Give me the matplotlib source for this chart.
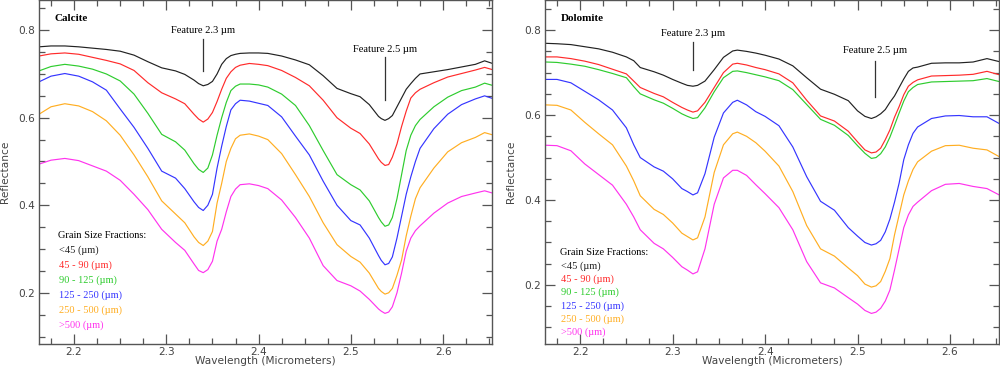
import matplotlib
matplotlib.use("Agg")
import matplotlib.pyplot as plt
from matplotlib.ticker import MultipleLocator

# ---- data ----
# Calcite panel, wavelength grid (micrometers)
wl_calcite = [2.162, 2.175, 2.19, 2.205, 2.22, 2.235, 2.25, 2.265, 2.28, 2.295,
              2.31, 2.32, 2.33, 2.335, 2.34, 2.345, 2.35, 2.355, 2.36, 2.365, 2.37, 2.375, 2.38, 2.39, 2.40,
              2.41, 2.425, 2.44, 2.455, 2.47, 2.485, 2.50, 2.51, 2.52, 2.53, 2.533,
              2.537, 2.541, 2.545, 2.55, 2.555, 2.56, 2.565, 2.57, 2.575, 2.59, 2.605, 2.62, 2.635, 2.645, 2.655]

cal_lt45 = [0.762, 0.764, 0.764, 0.762, 0.759, 0.756, 0.752, 0.743, 0.728, 0.714,
            0.707, 0.699, 0.686, 0.678, 0.673, 0.676, 0.683, 0.700, 0.722, 0.735, 0.742, 0.745, 0.747, 0.748, 0.748,
            0.747, 0.741, 0.732, 0.721, 0.696, 0.667, 0.655, 0.648, 0.630, 0.603, 0.598,
            0.594, 0.598, 0.605, 0.625, 0.645, 0.665, 0.678, 0.690, 0.700, 0.705, 0.710, 0.716, 0.722, 0.730, 0.723]
cal_45_90 = [0.741, 0.746, 0.748, 0.745, 0.738, 0.731, 0.723, 0.708, 0.680, 0.657,
             0.643, 0.632, 0.608, 0.597, 0.590, 0.597, 0.612, 0.637, 0.665, 0.690, 0.705, 0.715, 0.720, 0.724, 0.722,
             0.719, 0.708, 0.692, 0.673, 0.640, 0.600, 0.576, 0.564, 0.540, 0.506, 0.498,
             0.491, 0.493, 0.510, 0.540, 0.580, 0.615, 0.645, 0.657, 0.665, 0.680, 0.693, 0.701, 0.709, 0.715, 0.709]
cal_90_125 = [0.707, 0.717, 0.722, 0.718, 0.711, 0.700, 0.684, 0.654, 0.610, 0.562,
              0.545, 0.526, 0.495, 0.482, 0.475, 0.485, 0.515, 0.560, 0.600, 0.635, 0.662, 0.672, 0.677, 0.677, 0.675,
              0.670, 0.654, 0.628, 0.582, 0.525, 0.470, 0.447, 0.435, 0.410, 0.372, 0.362,
              0.352, 0.355, 0.372, 0.415, 0.470, 0.525, 0.560, 0.582, 0.596, 0.625, 0.647, 0.662, 0.670, 0.679, 0.673]
cal_125_250 = [0.682, 0.695, 0.701, 0.695, 0.682, 0.663, 0.620, 0.578, 0.530, 0.478,
               0.462, 0.438, 0.408, 0.395, 0.388, 0.400, 0.425, 0.485, 0.535, 0.580, 0.618, 0.632, 0.640, 0.638, 0.633,
               0.628, 0.602, 0.558, 0.515, 0.455, 0.400, 0.365, 0.355, 0.325, 0.285, 0.274,
               0.264, 0.267, 0.282, 0.325, 0.375, 0.425, 0.465, 0.500, 0.530, 0.575, 0.608, 0.630, 0.643, 0.650, 0.643]
cal_250_500 = [0.608, 0.625, 0.632, 0.627, 0.614, 0.593, 0.560, 0.515, 0.465, 0.410,
               0.380, 0.360, 0.328, 0.315, 0.308, 0.318, 0.340, 0.405, 0.450, 0.500, 0.530, 0.552, 0.560, 0.563, 0.558,
               0.550, 0.518, 0.470, 0.420, 0.360, 0.310, 0.283, 0.270, 0.245, 0.210, 0.203,
               0.197, 0.200, 0.210, 0.240, 0.275, 0.330, 0.375, 0.415, 0.440, 0.485, 0.522, 0.543, 0.555, 0.566, 0.560]
cal_gt500 = [0.494, 0.503, 0.507, 0.502, 0.490, 0.478, 0.457, 0.425, 0.390, 0.345,
             0.315, 0.297, 0.266, 0.251, 0.246, 0.253, 0.272, 0.318, 0.345, 0.385, 0.420, 0.437, 0.447, 0.449, 0.445,
             0.438, 0.412, 0.372, 0.325, 0.262, 0.228, 0.216, 0.204, 0.185, 0.163, 0.158,
             0.153, 0.156, 0.168, 0.200, 0.245, 0.295, 0.325, 0.342, 0.353, 0.382, 0.405, 0.420, 0.428, 0.433, 0.427]

# Dolomite panel
wl_dolomite = [2.163, 2.175, 2.19, 2.205, 2.22, 2.235, 2.25, 2.258, 2.265, 2.28,
               2.29, 2.30, 2.31, 2.316, 2.322, 2.327, 2.335, 2.345, 2.355, 2.365,
               2.37, 2.38, 2.39, 2.40, 2.415, 2.43, 2.445, 2.46, 2.475, 2.49,
               2.50, 2.508, 2.515, 2.52, 2.525, 2.53, 2.535, 2.54, 2.545, 2.55,
               2.555, 2.56, 2.565, 2.58, 2.595, 2.61, 2.625, 2.64, 2.655]

dol_lt45 = [0.769, 0.768, 0.766, 0.761, 0.756, 0.748, 0.737, 0.728, 0.712, 0.702,
            0.694, 0.684, 0.675, 0.670, 0.668, 0.670, 0.680, 0.707, 0.736, 0.751,
            0.753, 0.750, 0.746, 0.741, 0.732, 0.716, 0.688, 0.661, 0.649, 0.634,
            0.610, 0.597, 0.592, 0.596, 0.603, 0.613, 0.630, 0.645, 0.665, 0.685,
            0.703, 0.711, 0.713, 0.722, 0.723, 0.723, 0.725, 0.733, 0.725]
dol_45_90 = [0.737, 0.737, 0.733, 0.727, 0.719, 0.708, 0.697, 0.680, 0.665, 0.651,
             0.643, 0.630, 0.618, 0.612, 0.607, 0.610, 0.630, 0.665, 0.700, 0.720,
             0.722, 0.718, 0.712, 0.707, 0.697, 0.676, 0.635, 0.598, 0.586, 0.562,
             0.537, 0.518, 0.511, 0.513, 0.522, 0.542, 0.565, 0.595, 0.620, 0.648,
             0.668, 0.677, 0.683, 0.692, 0.693, 0.694, 0.696, 0.703, 0.694]
dol_90_125 = [0.725, 0.724, 0.720, 0.715, 0.707, 0.698, 0.688, 0.667, 0.650, 0.636,
              0.628, 0.616, 0.603, 0.597, 0.592, 0.594, 0.617, 0.655, 0.688, 0.703,
              0.704, 0.700, 0.695, 0.690, 0.681, 0.660, 0.625, 0.590, 0.576, 0.552,
              0.528, 0.510, 0.498, 0.500, 0.509, 0.525, 0.548, 0.576, 0.605, 0.633,
              0.655, 0.665, 0.672, 0.678, 0.679, 0.680, 0.681, 0.686, 0.678]
dol_125_250 = [0.684, 0.684, 0.676, 0.656, 0.636, 0.612, 0.570, 0.530, 0.500, 0.478,
               0.468, 0.450, 0.427, 0.420, 0.412, 0.417, 0.462, 0.548, 0.605, 0.630,
               0.635, 0.624, 0.608, 0.597, 0.575, 0.525, 0.455, 0.397, 0.376, 0.335,
               0.315, 0.300, 0.294, 0.297, 0.305, 0.325, 0.355, 0.395, 0.440, 0.495,
               0.530, 0.557, 0.572, 0.592, 0.598, 0.599, 0.596, 0.596, 0.578]
dol_250_500 = [0.624, 0.623, 0.612, 0.583, 0.556, 0.530, 0.480, 0.445, 0.410, 0.378,
               0.366, 0.346, 0.322, 0.314, 0.306, 0.311, 0.360, 0.465, 0.530, 0.556,
               0.560, 0.550, 0.535, 0.515, 0.480, 0.420, 0.340, 0.285, 0.268, 0.240,
               0.222, 0.202, 0.195, 0.198, 0.208, 0.232, 0.262, 0.318, 0.365, 0.412,
               0.445, 0.472, 0.490, 0.515, 0.528, 0.529, 0.522, 0.518, 0.500]
dol_gt500 = [0.529, 0.528, 0.516, 0.485, 0.460, 0.435, 0.390, 0.360, 0.330, 0.298,
             0.285, 0.265, 0.243, 0.235, 0.226, 0.231, 0.285, 0.390, 0.452, 0.470,
             0.470, 0.458, 0.436, 0.415, 0.382, 0.330, 0.255, 0.205, 0.193, 0.170,
             0.155, 0.140, 0.133, 0.136, 0.145, 0.162, 0.188, 0.235, 0.285, 0.335,
             0.365, 0.385, 0.395, 0.422, 0.437, 0.439, 0.432, 0.427, 0.410]

fraction_labels = ["<45 (\u00b5m)", "45 - 90 (\u00b5m)", "90 - 125 (\u00b5m)",
                   "125 - 250 (\u00b5m)", "250 - 500 (\u00b5m)", ">500 (\u00b5m)"]
line_colors = ["#222222", "#ff2b2b", "#2ecc2e", "#3535ff", "#ffae22", "#ff33ee"]

calcite_series = [cal_lt45, cal_45_90, cal_90_125, cal_125_250, cal_250_500, cal_gt500]
dolomite_series = [dol_lt45, dol_45_90, dol_90_125, dol_125_250, dol_250_500, dol_gt500]

# feature markers: (label x, label y, line top, line bottom)
calcite_features = [(2.340, 0.800, 0.779, 0.706), (2.537, 0.757, 0.738, 0.640)]
dolomite_features = [(2.322, 0.792, 0.773, 0.706), (2.519, 0.751, 0.728, 0.643)]

SERIF = "Liberation Serif"
AXIS_GREY = "#555555"


def style_axes(ax, ylim):
    ax.set_xlim(2.162, 2.653)
    ax.set_ylim(*ylim)
    ax.xaxis.set_major_locator(MultipleLocator(0.1))
    ax.xaxis.set_minor_locator(MultipleLocator(0.025))
    ax.yaxis.set_major_locator(MultipleLocator(0.2))
    ax.yaxis.set_minor_locator(MultipleLocator(0.05))
    ax.tick_params(which="both", direction="in", top=True, right=True,
                   colors=AXIS_GREY, labelcolor="#444444", labelsize=7.6, width=0.9)
    ax.tick_params(which="major", length=7, pad=3)
    ax.tick_params(which="minor", length=4.5)
    ax.tick_params(axis="x", which="major", pad=2)
    for sp in ax.spines.values():
        sp.set_color(AXIS_GREY)
        sp.set_linewidth(1.0)
    ax.set_xlabel("Wavelength (Micrometers)", fontsize=7.6, color="#444444")
    ax.set_ylabel("Reflectance", fontsize=7.6, color="#444444")
    ax.xaxis.set_label_coords(0.5, -0.036)
    ax.yaxis.set_label_coords(-0.064, 0.5)


def draw_panel(ax, wl, series, title, features, ylim, legend_x, legend_y, legend_step):
    for vals, col in zip(series, line_colors):
        ax.plot(wl, vals, color=col, linewidth=0.85)
    style_axes(ax, ylim)

    ax.text(0.035, 0.945, title, transform=ax.transAxes, fontsize=8,
            fontweight="bold", family=SERIF, va="center", ha="left")

    # absorption feature markers
    for i, (fx, fy, top, bot) in enumerate(features):
        name = "Feature 2.3 \u00b5m" if i == 0 else "Feature 2.5 \u00b5m"
        ax.text(fx, fy, name, fontsize=7.6, family=SERIF, ha="center", va="center")
        ax.plot([fx, fx], [top, bot], color="#333333", linewidth=0.9)

    # text legend in the lower left corner
    ax.text(legend_x, legend_y, "Grain Size Fractions:", transform=ax.transAxes,
            fontsize=7.5, family=SERIF, va="center", ha="left")
    for k, (lab, col) in enumerate(zip(fraction_labels, line_colors)):
        ax.text(legend_x + 0.002, legend_y - legend_step * (k + 1), lab,
                transform=ax.transAxes, fontsize=7.5, family=SERIF, color=col,
                va="center", ha="left")


fig = plt.figure(figsize=(10, 3.67), dpi=100)
ax1 = fig.add_axes([0.039, 1 - 344 / 367, 0.453, 344 / 367])
ax2 = fig.add_axes([0.545, 1 - 344 / 367, 0.454, 344 / 367])

draw_panel(ax1, wl_calcite, calcite_series, "Calcite", calcite_features,
           (0.083, 0.869), 0.042, 1 - 235 / 344, 15 / 344)
draw_panel(ax2, wl_dolomite, dolomite_series, "Dolomite", dolomite_features,
           (0.061, 0.871), 0.033, 1 - 253 / 344, 13.2 / 344)

fig.savefig("out.png", dpi=100, facecolor="white")
